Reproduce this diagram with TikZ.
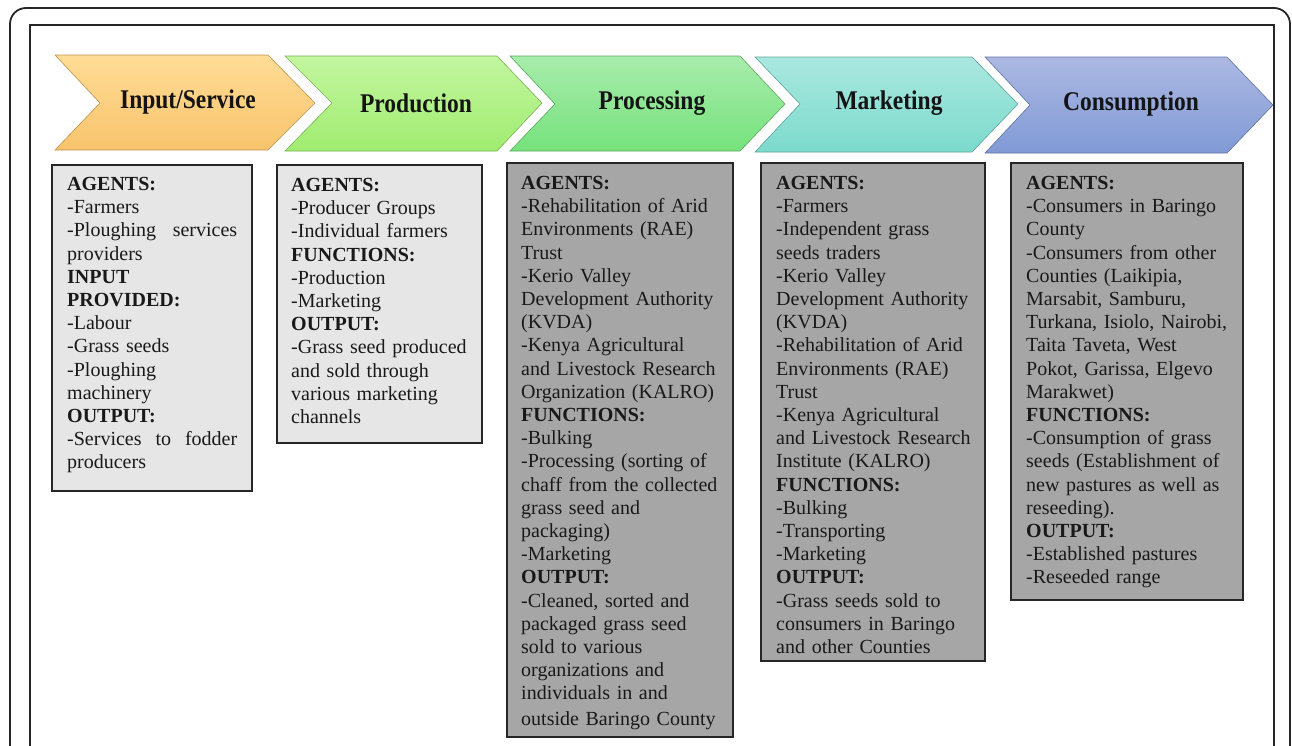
\documentclass[tikz,border=0pt]{standalone}
\usepackage{graphicx}
\usepackage{fontspec}
\setmainfont{Liberation Serif}

% chevron fills (top / bottom of the gradient)
\definecolor{inTop}{RGB}{255,220,150}
\definecolor{inBot}{RGB}{248,196,108}
\definecolor{prTop}{RGB}{195,246,160}
\definecolor{prBot}{RGB}{160,236,112}
\definecolor{pcTop}{RGB}{168,236,172}
\definecolor{pcBot}{RGB}{118,226,124}
\definecolor{mkTop}{RGB}{170,232,224}
\definecolor{mkBot}{RGB}{124,218,204}
\definecolor{coTop}{RGB}{172,184,226}
\definecolor{coBot}{RGB}{128,154,214}
\definecolor{boxlight}{RGB}{230,230,230}
\definecolor{boxdark}{RGB}{166,166,166}

% a line set flush to both margins of a 170pt column
\newcommand{\fullline}[2]{\leavevmode\hbox to 170pt{#1\hfill#2}}

\begin{document}
\begin{tikzpicture}[x=1pt,y=-1pt,
  frame/.style={line width=1.8pt, draw=black!85},
  chevron/.style 2 args={top color=#1, bottom color=#2, draw=#2!75!black, line width=0.6pt},
  hdr/.style={font=\fontsize{27}{30}\selectfont\bfseries, text=black!92, inner sep=0pt},
  panel/.style={draw=black!85, line width=1.8pt, anchor=north west, inner sep=0pt, outer sep=0pt},
  lightbox/.style={panel, fill=boxlight},
  darkbox/.style={panel, fill=boxdark},
  body/.style={anchor=north west, inner sep=0pt, align=left, text=black!90,
               font=\fontsize{20}{23.2}\selectfont},
]
\useasboundingbox (0,0) rectangle (1292,745);
\clip (0,0) rectangle (1292,745);

% page frames (open at the bottom)
\draw[frame, rounded corners=16pt] (10,790) -- (10,8) -- (1290,8) -- (1290,790);
\draw[frame] (30,790) -- (30,25) -- (1274,25) -- (1274,790);

% value-chain stages
\path[chevron={inTop}{inBot}] (55,55) -- (268,55) -- (315,103) -- (268,150) -- (55,150) -- (100,103) -- cycle;
\path[chevron={prTop}{prBot}] (285,56) -- (497,56) -- (542,103) -- (497,151) -- (285,151) -- (332,103) -- cycle;
\path[chevron={pcTop}{pcBot}] (510,56) -- (740,56) -- (785,104) -- (740,151) -- (510,151) -- (555,104) -- cycle;
\path[chevron={mkTop}{mkBot}] (755,57) -- (972,57) -- (1018,104) -- (972,152) -- (755,152) -- (800,104) -- cycle;
\path[chevron={coTop}{coBot}] (985,57) -- (1227,57) -- (1273,105) -- (1227,153) -- (985,153) -- (1030,105) -- cycle;

\node[hdr] (hInput) at (188,102) {\scalebox{0.87}[1]{Input/Service}};
\node[hdr] (hProd)  at (416,103) {\scalebox{0.87}[1]{Production}};
\node[hdr] (hProc)  at (652,103) {\scalebox{0.87}[1]{Processing}};
\node[hdr] (hMark)  at (889,103) {\scalebox{0.87}[1]{Marketing}};
\node[hdr] (hCons)  at (1131,104) {\scalebox{0.87}[1]{Consumption}};

% stage panels
\node[lightbox, minimum width=200pt, minimum height=326pt] (b1) at (52,165) {};
\node[lightbox, minimum width=205pt, minimum height=278pt] (b2) at (277,165) {};
\node[darkbox,  minimum width=226pt, minimum height=574pt] (b3) at (507,163) {};
\node[darkbox,  minimum width=224pt, minimum height=498pt] (b4) at (761,163) {};
\node[darkbox,  minimum width=232pt, minimum height=437pt] (b5) at (1011,163) {};

\node[body, text width=170pt] (t1) at ([shift={(15,12)}]b1.north west) {%
\textbf{AGENTS:}\\
-Farmers\\
\fullline{-Ploughing}{services}\\
providers\\
\textbf{INPUT}\\
\textbf{PROVIDED:}\\
-Labour\\
-Grass seeds\\
-Ploughing\\
machinery\\
\textbf{OUTPUT:}\\
\fullline{-Services\hfill to}{fodder}\\
producers};

\node[body, text width=185pt] (t2) at ([shift={(14,13)}]b2.north west) {%
\textbf{AGENTS:}\\
-Producer Groups\\
-Individual farmers\\
\textbf{FUNCTIONS:}\\
-Production\\
-Marketing\\
\textbf{OUTPUT:}\\
-Grass seed produced\\
and sold through\\
various marketing\\
channels};

\node[body, text width=212pt] (t3) at ([shift={(14,13)}]b3.north west) {%
\textbf{AGENTS:}\\
-Rehabilitation of Arid\\
Environments (RAE)\\
Trust\\
-Kerio Valley\\
Development Authority\\
(KVDA)\\
-Kenya Agricultural\\
and Livestock Research\\
Organization (KALRO)\\
\textbf{FUNCTIONS:}\\
-Bulking\\
-Processing (sorting of\\
chaff from the collected\\
grass seed and\\
packaging)\\
-Marketing\\
\textbf{OUTPUT:}\\
-Cleaned, sorted and\\
packaged grass seed\\
sold to various\\
organizations and\\
individuals in and\\[2.5pt]
outside Baringo County};

\node[body, text width=210pt] (t4) at ([shift={(15,13)}]b4.north west) {%
\textbf{AGENTS:}\\
-Farmers\\
-Independent grass\\
seeds traders\\
-Kerio Valley\\
Development Authority\\
(KVDA)\\
-Rehabilitation of Arid\\
Environments (RAE)\\
Trust\\
-Kenya Agricultural\\
and Livestock Research\\
Institute (KALRO)\\
\textbf{FUNCTIONS:}\\
-Bulking\\
-Transporting\\
-Marketing\\
\textbf{OUTPUT:}\\
-Grass seeds sold to\\
consumers in Baringo\\
and other Counties};

\node[body, text width=216pt] (t5) at ([shift={(15,13)}]b5.north west) {%
\textbf{AGENTS:}\\
-Consumers in Baringo\\
County\\
-Consumers from other\\
Counties (Laikipia,\\
Marsabit, Samburu,\\
Turkana, Isiolo, Nairobi,\\
Taita Taveta, West\\
Pokot, Garissa, Elgevo\\
Marakwet)\\
\textbf{FUNCTIONS:}\\
-Consumption of grass\\
seeds (Establishment of\\
new pastures as well as\\
reseeding).\\
\textbf{OUTPUT:}\\
-Established pastures\\
-Reseeded range};
\end{tikzpicture}
\end{document}
